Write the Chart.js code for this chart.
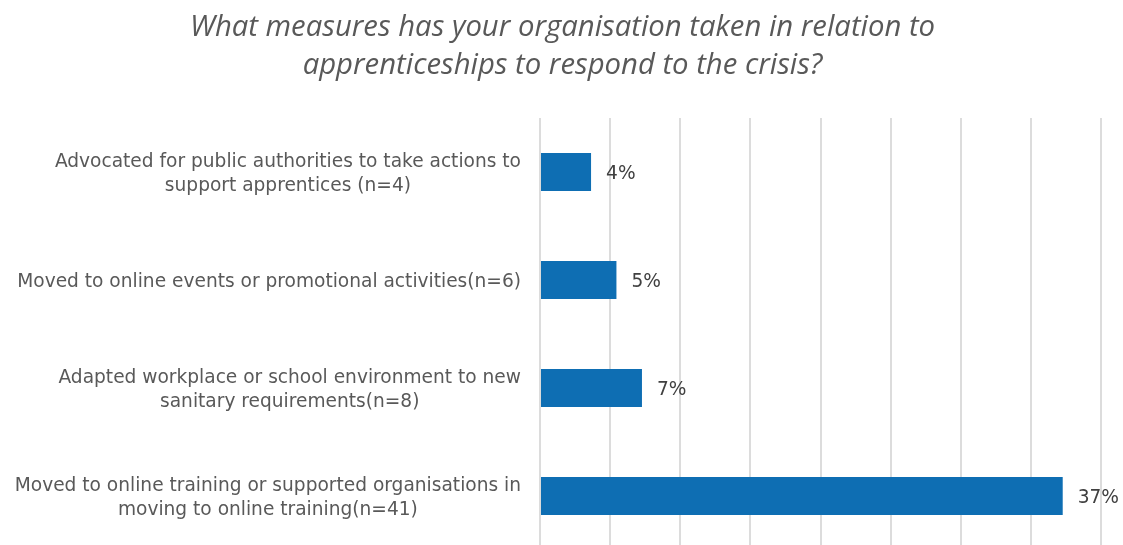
<!DOCTYPE html>
<html lang="en">
<head>
    <meta charset="UTF-8">
    <title>Apprenticeship measures</title>
</head>
<style>
    html, body {
        margin: 0;
        padding: 0;
        background: #ffffff;
        overflow: hidden;
    }
    .wrap {
        width: 1123px;
        height: 552px;
    }
</style>
<body>
    <div class="wrap">
        <canvas id="measuresChart"></canvas>
    </div>
    <script src="https://cdn.jsdelivr.net/npm/chart.js"></script>
    <script>
    const titleLines = [
        'What measures has your organisation taken in relation to',
        'apprenticeships to respond to the crisis?'
    ];

    // each category is drawn as a centred block of lines
    const categories = [
        ['Advocated for public authorities to take actions to', 'support apprentices (n=4)'],
        ['Moved to online events or promotional activities(n=6)'],
        ['Adapted workplace or school environment to new', 'sanitary requirements(n=8)'],
        ['Moved to online training or supported organisations in', 'moving to online training(n=41)']
    ];

    // share of respondents, in percent
    const shares = [3.64, 5.45, 7.27, 37.27];

    const axisMin = 0;
    const axisMax = 40;
    const axisStep = 5;

    const textFont = '"DejaVu Sans", Verdana, sans-serif';
    const textSize = 18.6;

    // title centred on the whole canvas, not just the plot
    const titleBlock = {
        id: 'titleBlock',
        afterDraw(chart) {
            const ctx = chart.ctx;
            ctx.save();
            ctx.font = 'italic 29.3px "Open Sans", sans-serif';
            ctx.fillStyle = '#595959';
            ctx.textAlign = 'center';
            ctx.textBaseline = 'middle';
            titleLines.forEach((line, i) => ctx.fillText(line, chart.width / 2 + 1, 28 + i * 38));
            ctx.restore();
        }
    };

    // category labels: right edge of each block on one line, lines centred within the block
    const categoryLabels = {
        id: 'categoryLabels',
        afterDraw(chart) {
            const ctx = chart.ctx;
            const yScale = chart.scales.y;
            const rightEdge = chart.chartArea.left - 19;
            const lineHeight = 24.5;
            ctx.save();
            ctx.font = textSize + 'px ' + textFont;
            ctx.fillStyle = '#595959';
            ctx.textAlign = 'center';
            ctx.textBaseline = 'middle';
            categories.forEach((lines, i) => {
                const widest = Math.max(...lines.map(l => ctx.measureText(l).width));
                const cx = rightEdge - widest / 2;
                const cy = yScale.getPixelForValue(i) + 2;
                const top = cy - (lines.length - 1) * lineHeight / 2;
                lines.forEach((line, j) => ctx.fillText(line, cx, top + j * lineHeight));
            });
            ctx.restore();
        }
    };

    // rounded value printed to the right of each bar
    const valueLabels = {
        id: 'valueLabels',
        afterDatasetsDraw(chart) {
            const ctx = chart.ctx;
            const meta = chart.getDatasetMeta(0);
            ctx.save();
            ctx.font = textSize + 'px ' + textFont;
            ctx.fillStyle = '#404040';
            ctx.textAlign = 'left';
            ctx.textBaseline = 'middle';
            meta.data.forEach((bar, i) => {
                ctx.fillText(Math.round(shares[i]) + '%', bar.x + 15, bar.y + 2);
            });
            ctx.restore();
        }
    };

    const ctx = document.getElementById('measuresChart').getContext('2d');
    new Chart(ctx, {
        type: 'bar',
        data: {
            labels: categories,
            datasets: [{
                data: shares,
                backgroundColor: '#0e6eb3',
                borderWidth: 0,
                barPercentage: 0.35,
                categoryPercentage: 1
            }]
        },
        options: {
            indexAxis: 'y',
            responsive: true,
            maintainAspectRatio: false,
            animation: false,
            layout: {
                padding: { left: 0, right: 22, top: 118, bottom: 2 }
            },
            plugins: {
                legend: { display: false },
                tooltip: { enabled: false },
                title: { display: false }
            },
            scales: {
                x: {
                    min: axisMin,
                    max: axisMax,
                    ticks: { stepSize: axisStep, display: false },
                    grid: { color: '#dcdcdc', lineWidth: 2, drawTicks: false },
                    border: { display: false }
                },
                y: {
                    ticks: { display: false },
                    grid: { display: false, drawTicks: false },
                    border: { display: false },
                    // room on the left for the category blocks
                    afterFit(scale) {
                        scale.width = 540;
                    }
                }
            }
        },
        plugins: [titleBlock, categoryLabels, valueLabels]
    });
    </script>
</body>
</html>
